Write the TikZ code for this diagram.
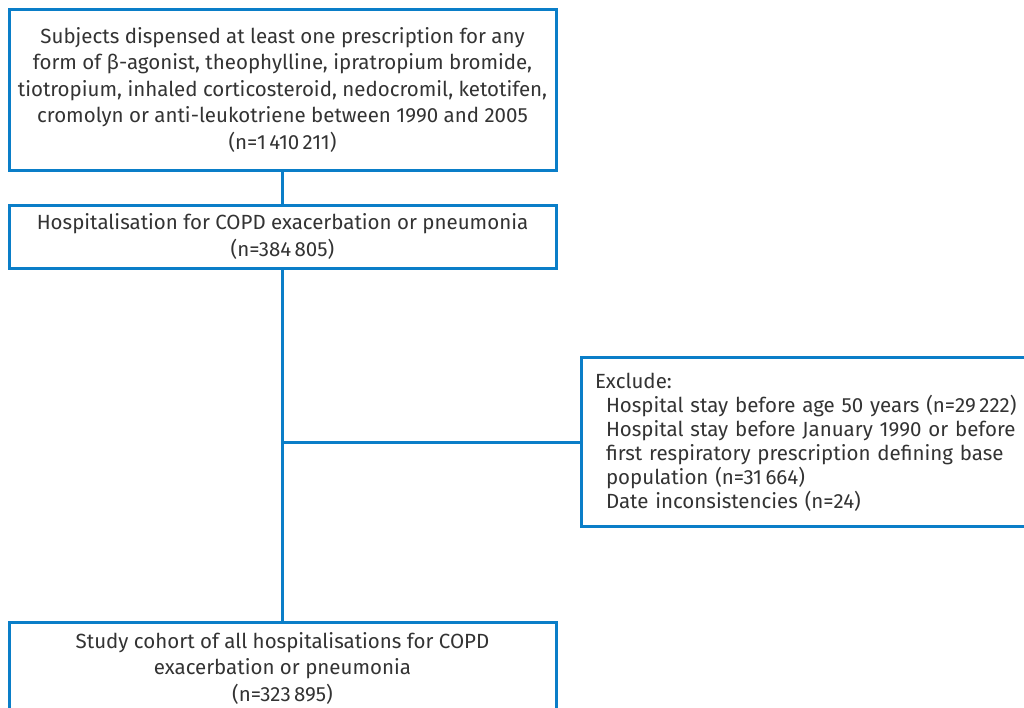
\documentclass[tikz,border=0pt]{standalone}
\usepackage{fontspec}
\setmainfont{Fira Sans}
\usetikzlibrary{positioning}
\definecolor{flowBlue}{HTML}{0A7EC8}
\definecolor{inkGrey}{HTML}{333333}
\newcommand{\ind}{\hspace*{11pt}}
\tikzset{
  box/.style   = {draw=flowBlue, line width=3pt, fill=white, align=center,
                  text=inkGrey, font=\fontsize{20.5}{26.5}\selectfont,
                  inner sep=0pt, outer sep=0pt, minimum width=547pt},
  exbox/.style = {box, align=left, font=\fontsize{20.5}{24}\selectfont,
                  minimum width=480pt, minimum height=169pt,
                  text width=452pt, inner xsep=14pt},
  link/.style  = {draw=flowBlue, line width=3pt}
}
\begin{document}
\begin{tikzpicture}[x=1pt, y=-1pt]
  \useasboundingbox (0,0) rectangle (1024,707);
  \node[box, minimum height=161pt] (subj) at (282.5,89.5)
    {Subjects dispensed at least one prescription for any\\
     form of β-agonist, theophylline, ipratropium bromide,\\
     tiotropium, inhaled corticosteroid, nedocromil, ketotifen,\\
     cromolyn or anti-leukotriene between 1990 and 2005\\
     (n=1\,410\,211)};
  \node[box, below=35pt of subj, minimum height=63pt] (hosp)
    {Hospitalisation for COPD exacerbation or pneumonia\\ (n=384\,805)};
  \node[box, below=354pt of hosp, minimum height=92pt] (cohort)
    {Study cohort of all hospitalisations for COPD\\
     exacerbation or pneumonia\\ (n=323\,895)};
  \coordinate (split) at (hosp.south |- 0,442);
  \node[exbox, right=298.5pt of split] (excl)
    {Exclude:\\
     \ind Hospital stay before age 50 years (n=29\,222)\\
     \ind Hospital stay before January 1990 or before\\
     \ind first respiratory prescription defining base\\
     \ind population (n=31\,664)\\
     \ind Date inconsistencies (n=24)};
  \foreach \a/\b in {subj/hosp, hosp/cohort} \draw[link] (\a) -- (\b);
  \draw[link] (split) -- (excl);
\end{tikzpicture}
\end{document}
